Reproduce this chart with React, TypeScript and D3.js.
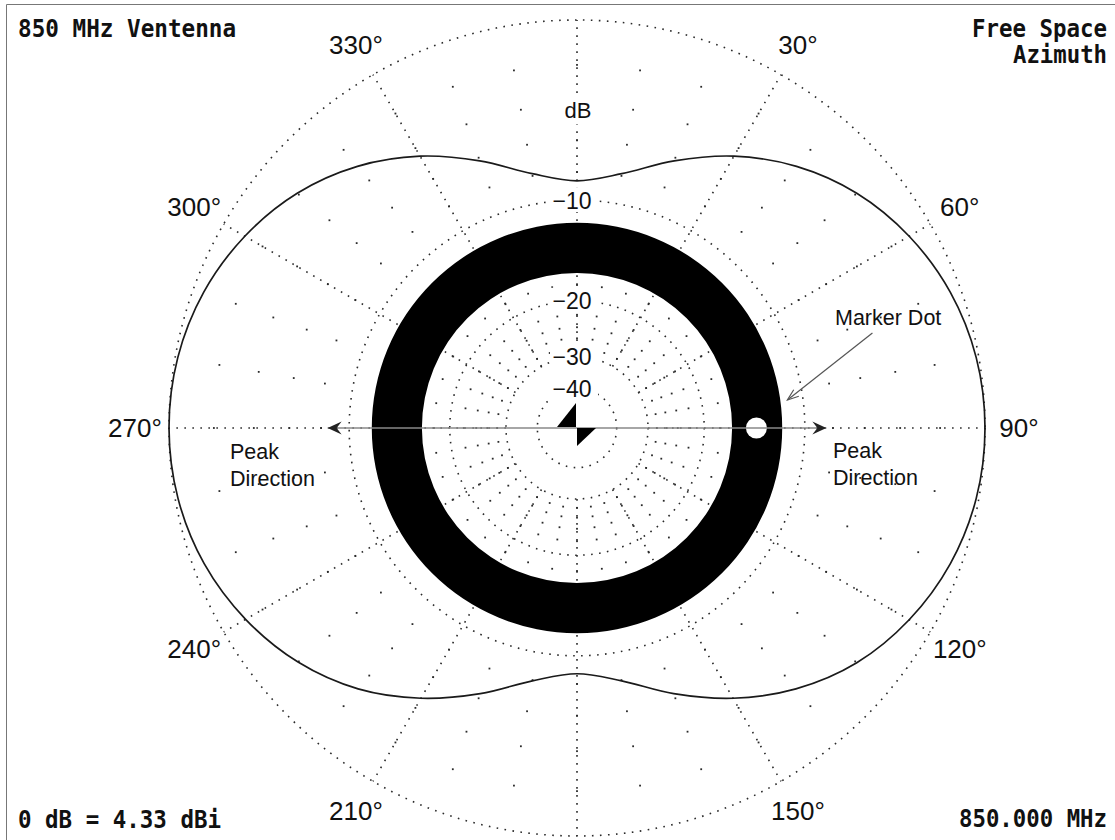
import { useMemo } from 'react';
import * as d3 from 'd3';

// chart values
const patternAz = [0, 10, 20, 30, 40, 50, 60, 70, 80, 90, 100, 110, 120, 130, 140, 150, 160, 170,
  180, 190, 200, 210, 220, 230, 240, 250, 260, 270, 280, 290, 300, 310, 320, 330, 340, 350];
const patternDb = [-8.6, -7.85, -6.2, -4.5, -3.05, -1.9, -1.06, -0.46, -0.11, 0, -0.11, -0.46, -1.06, -1.9, -3.1, -4.6, -6.3, -7.95,
  -8.7, -7.95, -6.3, -4.6, -3.1, -1.95, -1.1, -0.48, -0.12, 0, -0.11, -0.46, -1.06, -1.9, -3.05, -4.5, -6.2, -7.85];

const annulusDb = [-11.8, -16.6]; // outer, inner edge of the heavy ring
const markerAz = 90;
const markerDb = -14.1;
const peakArrowDb = -8.45;

const ringLevels = [0, -10, -20, -30, -40];
const ringLabels = ['−10', '−20', '−30', '−40'];
const spokeAngles = [0, 30, 60, 90, 120, 150, 180, 210, 240, 270, 300, 330];
const angleLabels = ['30°', '60°', '90°', '120°', '150°', '210°', '240°', '270°', '300°', '330°'];
const labelAngles = [30, 60, 90, 120, 150, 210, 240, 270, 300, 330];
const dotAngles = [0, 10, 20, 30, 40, 50, 60, 70, 80, 90, 100, 110, 120, 130, 140, 150, 160, 170,
  180, 190, 200, 210, 220, 230, 240, 250, 260, 270, 280, 290, 300, 310, 320, 330, 340, 350];
const dotLevels = [-2, -4, -6, -8, -12, -14, -16, -18, -22, -24, -26, -28];

const W = 1115;
const H = 840;
const CX = 577;
const CY = 428;
const R = 408;

const MONO = '"DejaVu Sans Mono", "Liberation Mono", monospace';
const SANS = '"Liberation Sans", Arial, sans-serif';
const DOT = '1.6 6.4';
const GRID = '#2a2a2a';

// ARRL log-periodic scale: every 2 dB is a factor of 0.89 in radius
const rScale = (db: number) => R * Math.pow(0.89, -db / 2);
const toXY = (az: number, r: number): [number, number] => {
  const a = (az * Math.PI) / 180;
  return [CX + r * Math.sin(a), CY - r * Math.cos(a)];
};

export default function App() {
  const patternPath = useMemo(() => {
    const line = d3
      .lineRadial<number>()
      .angle((_, i) => (patternAz[i] * Math.PI) / 180)
      .radius((d) => rScale(d))
      .curve(d3.curveCatmullRomClosed);
    return line(patternDb) || '';
  }, []);

  const annulus = d3
    .arc()
    .innerRadius(rScale(annulusDb[1]))
    .outerRadius(rScale(annulusDb[0]))
    .startAngle(0)
    .endAngle(2 * Math.PI);

  const [mx, my] = toXY(markerAz, rScale(markerDb));
  const tipR = rScale(peakArrowDb);
  const [rtX] = toXY(90, tipR);
  const [ltX] = toXY(270, tipR);

  // annotation arrow for the marker dot
  const annStart: [number, number] = [mx + 116, my - 95];
  const annEnd: [number, number] = [mx + 31, my - 28];
  const annAng = Math.atan2(annEnd[1] - annStart[1], annEnd[0] - annStart[0]);
  const wing = (s: number): [number, number] => [
    annEnd[0] - 12 * Math.cos(annAng + s),
    annEnd[1] - 12 * Math.sin(annAng + s),
  ];

  return (
    <svg
      width={W}
      height={H}
      style={{ position: 'absolute', left: 0, top: 0, background: '#fff' }}
    >
      <rect width={W} height={H} fill="#fff" />
      <polyline points={`6.5,${H} 6.5,4.5 ${W},4.5`} fill="none" stroke="#777" strokeWidth={1} />

      {/* dotted rings */}
      {ringLevels.map((db) => (
        <circle
          key={db}
          cx={CX}
          cy={CY}
          r={rScale(db)}
          fill="none"
          stroke={GRID}
          strokeWidth={1.6}
          strokeDasharray={DOT}
        />
      ))}

      {/* dotted spokes */}
      {spokeAngles.map((az) => {
        const [x1, y1] = toXY(az, rScale(-30));
        const [x2, y2] = toXY(az, R);
        return (
          <line key={az} x1={x1} y1={y1} x2={x2} y2={y2} stroke={GRID} strokeWidth={1.6} strokeDasharray={DOT} />
        );
      })}

      {/* scattered grid dots */}
      {dotAngles.map((az) =>
        dotLevels.map((db) => {
          const [x, y] = toXY(az, rScale(db));
          return <rect key={`${az}_${db}`} x={x - 0.9} y={y - 0.9} width={1.8} height={1.8} fill={GRID} />;
        })
      )}

      {/* heavy ring */}
      <path d={annulus(null as any) || ''} transform={`translate(${CX},${CY})`} fill="#000" />
      <circle cx={mx} cy={my} r={10.5} fill="#fff" />

      {/* pattern */}
      <path d={patternPath} transform={`translate(${CX},${CY})`} fill="none" stroke="#1a1a1a" strokeWidth={1.7} />

      {/* peak direction arrows */}
      <line x1={ltX} y1={CY} x2={rtX} y2={CY} stroke="#888" strokeWidth={1.7} />
      <path d={`M${rtX},${CY} L${rtX - 14},${CY - 6.5} L${rtX - 9},${CY} L${rtX - 14},${CY + 6.5} Z`} fill="#222" />
      <path d={`M${ltX},${CY} L${ltX + 14},${CY - 6.5} L${ltX + 9},${CY} L${ltX + 14},${CY + 6.5} Z`} fill="#222" />

      {/* center antenna symbol */}
      <path d={`M${CX - 1},${CY - 25} L${CX - 20},${CY - 1} L${CX - 1},${CY - 1} Z`} fill="#000" />
      <path d={`M${CX},${CY} L${CX + 19},${CY} L${CX},${CY + 18} Z`} fill="#000" />

      {/* dB scale labels */}
      <g fontFamily={SANS} textAnchor="middle">
        <rect x={CX - 16} y={CY - rScale(-4.3) - 14} width={32} height={28} fill="#fff" />
        <text x={CX + 1} y={CY - rScale(-4.3) + 8} fontSize={22} fill="#111">dB</text>
        {ringLabels.map((t, i) => {
          const y = CY - rScale(ringLevels[i + 1]);
          return (
            <g key={t}>
              <rect x={CX - 27} y={y - 13} width={48} height={25} fill="#fff" />
              <text x={CX - 5} y={y + 8.5} fontSize={23} fill="#111">{t}</text>
            </g>
          );
        })}
      </g>

      {/* azimuth labels */}
      <g fontFamily={SANS} fontSize={26} fill="#111" textAnchor="middle">
        {angleLabels.map((t, i) => {
          const [x, y] = toXY(labelAngles[i], 442);
          return (
            <text key={t} x={x} y={y + 9}>{t}</text>
          );
        })}
      </g>

      {/* annotations */}
      <g fontFamily={SANS} fontSize={21.5} fill="#111">
        <text x={835} y={325}>Marker Dot</text>
        <text x={833} y={458}>Peak</text>
        <text x={833} y={485}>Direction</text>
        <text x={230} y={459}>Peak</text>
        <text x={230} y={486}>Direction</text>
      </g>
      <line x1={annStart[0]} y1={annStart[1]} x2={annEnd[0]} y2={annEnd[1]} stroke="#555" strokeWidth={1.2} />
      <polyline
        points={`${wing(0.35).join(',')} ${annEnd.join(',')} ${wing(-0.35).join(',')}`}
        fill="none"
        stroke="#555"
        strokeWidth={1.2}
      />

      {/* corner captions */}
      <g fontFamily={MONO} fontSize={24} fontWeight="bold" fill="#111">
        <text x={18} y={37} textLength={218} lengthAdjust="spacingAndGlyphs">850 MHz Ventenna</text>
        <text x={1107} y={37} textAnchor="end" textLength={135} lengthAdjust="spacingAndGlyphs">Free Space</text>
        <text x={1107} y={63} textAnchor="end" textLength={94} lengthAdjust="spacingAndGlyphs">Azimuth</text>
        <text x={18} y={828} textLength={203} lengthAdjust="spacingAndGlyphs">0 dB = 4.33 dBi</text>
        <text x={1107} y={827} textAnchor="end" textLength={148} lengthAdjust="spacingAndGlyphs">850.000 MHz</text>
      </g>
    </svg>
  );
}
